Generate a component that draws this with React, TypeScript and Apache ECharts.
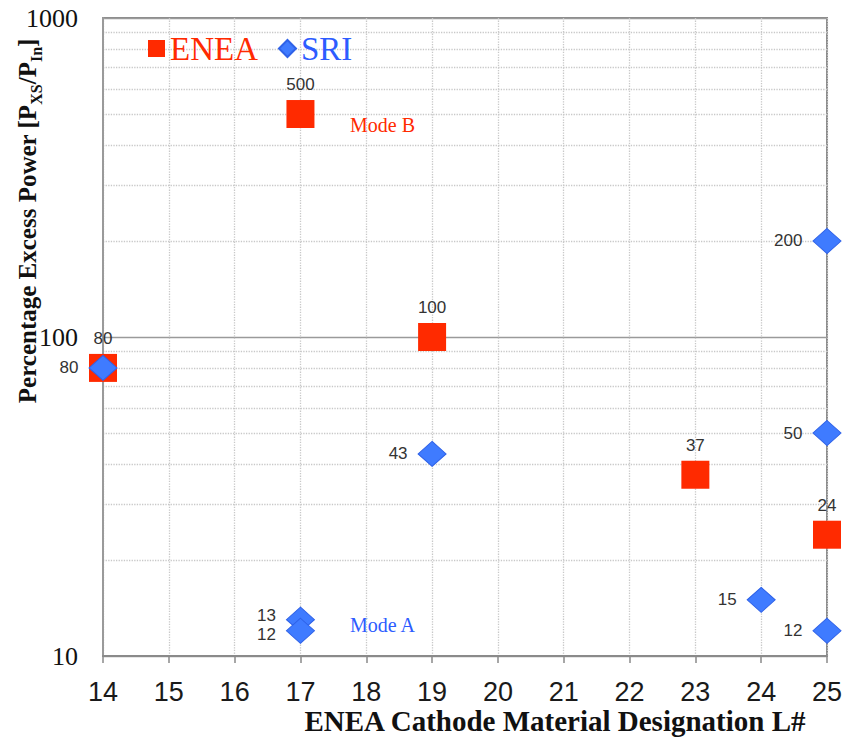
import React, { useEffect, useRef } from "react";
import * as echarts from "echarts";

const xTicks = [14, 15, 16, 17, 18, 19, 20, 21, 22, 23, 24, 25];
const eneaX = [14, 17, 19, 23, 25];
const eneaY = [80, 500, 100, 37, 24];
const sriX = [14, 17, 17, 19, 24, 25, 25, 25];
const sriY = [80, 13, 12, 43, 15, 200, 50, 12];
const minorGridValues = [20, 30, 40, 50, 60, 70, 80, 90, 200, 300, 400, 500, 600, 700, 800, 900];

const RED = "#ff2a00";
const BLUE = "#3f7bff";
const BLUE_TEXT = "#2d5cff";
const SERIF = "'Liberation Serif', 'Times New Roman', serif";
const SANS = "'Liberation Sans', Arial, sans-serif";

export default function App() {
  const ref = useRef<HTMLDivElement>(null);
  useEffect(() => {
    if (!ref.current) return;
    const chart = echarts.init(ref.current, null, { renderer: "svg" });
    const option = {
      animation: false,
      backgroundColor: "#ffffff",
      grid: {
        left: 103,
        right: 19,
        top: 18,
        bottom: 83,
        show: true,
        borderColor: "#8a8a8a",
        borderWidth: 2,
        backgroundColor: "transparent",
      },
      legend: {
        left: 143,
        top: 27,
        z: 20,
        itemWidth: 17,
        itemHeight: 17,
        itemGap: 20,
        selectedMode: false,
        textStyle: { fontFamily: SERIF, fontSize: 33, padding: [3, 0, 0, 0] },
        data: [
          { name: "ENEA", icon: "rect", textStyle: { color: RED } },
          { name: "SRI", icon: "diamond", textStyle: { color: BLUE_TEXT } },
        ],
      },
      xAxis: {
        type: "value",
        min: xTicks[0],
        max: xTicks[xTicks.length - 1],
        interval: 1,
        axisLine: { show: true, lineStyle: { color: "#8a8a8a", width: 2 } },
        axisTick: { show: true, length: 7, lineStyle: { color: "#8a8a8a", width: 1.5 } },
        axisLabel: {
          margin: 22,
          fontFamily: SANS,
          fontSize: 27,
          color: "#1a1a1a",
        },
        splitLine: { show: true, lineStyle: { color: "#c8c8c8", type: "dotted", width: 1.3 } },
      },
      yAxis: {
        type: "log",
        logBase: 10,
        min: 10,
        max: 1000,
        axisLine: { show: true, lineStyle: { color: "#9a9a9a", width: 2 } },
        axisTick: { show: false },
        axisLabel: {
          margin: 25,
          fontFamily: SERIF,
          fontSize: 26,
          color: "#111",
          formatter: (v: number) => String(Math.round(v)),
        },
        splitLine: { show: true, lineStyle: { color: "#9a9a9a", width: 1.3 } },
      },
      graphic: [
        {
          type: "text",
          x: 27,
          y: 221,
          rotation: Math.PI / 2,
          style: {
            text: "{b|Percentage Excess Power [P}{s|XS}{b|/P}{s|In}{b|]}",
            align: "center",
            verticalAlign: "middle",
            fill: "#111",
            rich: {
              b: { fontFamily: SERIF, fontSize: 25, fontWeight: "bold", lineHeight: 34, verticalAlign: "middle", fill: "#111" },
              s: { fontFamily: SERIF, fontSize: 16, fontWeight: "bold", lineHeight: 34, verticalAlign: "bottom", padding: [11, 0, 0, 0], fill: "#111" },
            },
          },
        },
        {
          type: "text",
          x: 555,
          y: 721,
          style: {
            text: "ENEA Cathode Material Designation L#",
            align: "center",
            verticalAlign: "middle",
            fontFamily: SERIF,
            fontSize: 29,
            fontWeight: "bold",
            fill: "#111",
          },
        },
        {
          type: "text",
          x: 350,
          y: 125,
          style: { text: "Mode B", align: "left", verticalAlign: "middle", fontFamily: SERIF, fontSize: 20, fill: RED },
        },
        {
          type: "text",
          x: 350,
          y: 625,
          style: { text: "Mode A", align: "left", verticalAlign: "middle", fontFamily: SERIF, fontSize: 20, fill: BLUE_TEXT },
        },
      ],
      series: [
        {
          name: "minor grid",
          type: "scatter",
          data: [],
          z: 0,
          silent: true,
          markLine: {
            silent: true,
            z: 0,
            symbol: ["none", "none"],
            label: { show: false },
            lineStyle: { color: "#c8c8c8", type: "dotted", width: 1.3 },
            data: minorGridValues.map((v) => ({ yAxis: v })),
          },
        },
        {
          name: "ENEA",
          type: "scatter",
          symbol: "rect",
          symbolSize: 28,
          itemStyle: { color: RED, opacity: 1 },
          label: {
            show: true,
            position: "top",
            distance: 7,
            fontFamily: SANS,
            fontSize: 17,
            color: "#333",
            formatter: (p: any) => String(p.value[1]),
          },
          data: eneaX.map((x, i) => [x, eneaY[i]]),
          z: 4,
        },
        {
          name: "SRI",
          type: "scatter",
          symbol: "diamond",
          symbolSize: [28, 25],
          itemStyle: { color: BLUE, borderColor: "#2f62e8", borderWidth: 1, opacity: 1 },
          label: {
            show: true,
            position: "left",
            distance: 10,
            fontFamily: SANS,
            fontSize: 17,
            color: "#333",
            formatter: (p: any) => String(p.value[1]),
          },
          data: sriX.map((x, i) => {
            const item: any = { value: [x, sriY[i]] };
            if (x === 17 && sriY[i] === 13) item.label = { offset: [0, -4] };
            if (x === 17 && sriY[i] === 12) item.label = { offset: [0, 4] };
            return item;
          }),
          z: 5,
        },
      ],
    };
    chart.setOption(option);
    return () => chart.dispose();
  }, []);
  return <div ref={ref} style={{ width: 846, height: 739, position: "absolute", left: 0, top: 0 }} />;
}
